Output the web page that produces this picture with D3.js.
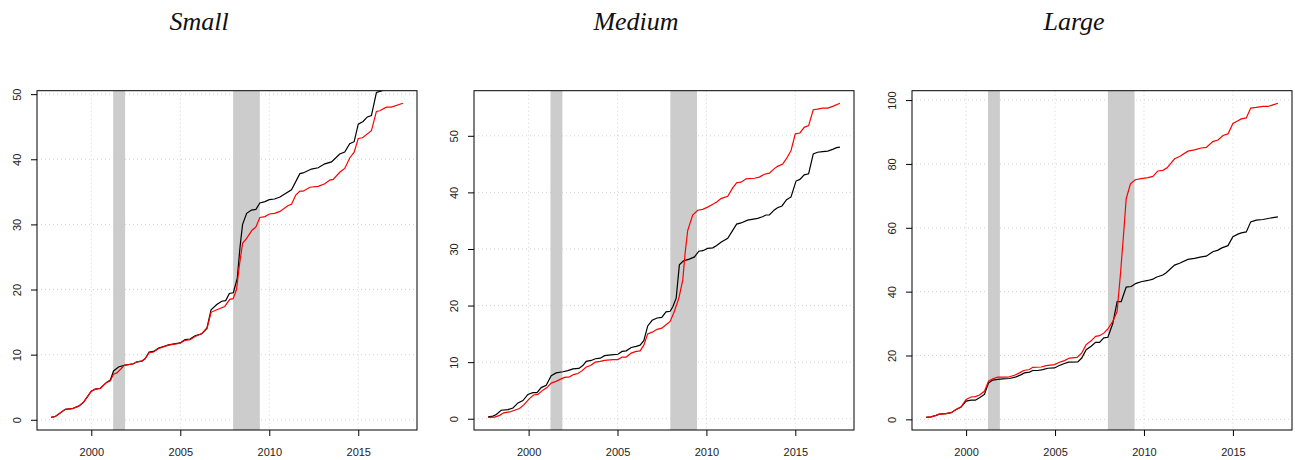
<!DOCTYPE html>
<html>
<head>
<meta charset="utf-8">
<script src="https://cdn.jsdelivr.net/npm/d3@7"></script>
<style>
    body { margin: 0; background: #fff; }
    svg { display: block; }
    .tick text { font-family: "Liberation Sans", Arial, sans-serif; font-size: 11px; fill: #222; }
    .title { font-family: "Liberation Serif", "Times New Roman", serif; font-style: italic; font-size: 26px; fill: #111; }
</style>
</head>
<body>
<svg width="1295" height="460"></svg>
<script>
'use strict';

var titles = ["Small", "Medium", "Large"];
var xTicks = [2000, 2005, 2010, 2015];
var yTicksSmall = [0, 10, 20, 30, 40, 50];
var yTicksMedium = [0, 10, 20, 30, 40, 50];
var yTicksLarge = [0, 20, 40, 60, 80, 100];
var recessions = [[2001.23, 2001.9], [2007.97, 2009.47]];

var smallBlack = [[1997.74,0.36],[1997.98,0.5],[1998.54,1.6],[1998.92,1.7],[1999.29,2.1],[1999.57,2.7],[2000.0,4.4],[2000.22,4.7],[2000.5,4.8],[2000.84,5.7],[2001.07,6.1],[2001.25,7.5],[2001.53,8.1],[2001.9,8.4],[2002.37,8.6],[2002.56,8.9],[2002.84,9.0],[2003.03,9.4],[2003.25,10.4],[2003.5,10.5],[2003.78,11.0],[2004.06,11.25],[2004.34,11.5],[2004.99,11.8],[2005.27,12.3],[2005.55,12.4],[2005.83,12.9],[2006.2,13.2],[2006.5,14.1],[2006.73,16.9],[2007.05,17.7],[2007.33,18.2],[2007.55,18.3],[2007.76,19.4],[2007.98,19.5],[2008.2,21.7],[2008.36,26.6],[2008.5,30.0],[2008.73,31.7],[2009.0,32.2],[2009.25,32.3],[2009.47,33.3],[2009.76,33.5],[2010.0,33.8],[2010.3,33.9],[2010.6,34.2],[2011.25,35.3],[2011.72,37.8],[2011.9,37.9],[2012.37,38.5],[2012.75,38.7],[2013.12,39.3],[2013.5,39.6],[2013.96,40.8],[2014.24,41.1],[2014.52,42.4],[2014.77,42.7],[2015.0,45.4],[2015.27,45.8],[2015.51,46.5],[2015.74,46.7],[2016.02,50.25],[2016.3,50.5],[2016.7,50.9],[2017.1,51.3],[2017.51,51.6]];
var smallRed = [[1997.74,0.36],[1997.98,0.5],[1998.54,1.6],[1998.92,1.7],[1999.29,2.1],[1999.57,2.7],[2000.0,4.4],[2000.22,4.7],[2000.5,4.8],[2000.84,5.7],[2001.07,6.0],[2001.25,7.0],[2001.44,7.2],[2001.66,7.8],[2001.85,8.35],[2002.37,8.6],[2002.56,8.9],[2002.84,9.0],[2003.03,9.4],[2003.25,10.3],[2003.5,10.4],[2003.78,10.95],[2004.06,11.2],[2004.34,11.45],[2004.99,11.75],[2005.27,12.2],[2005.55,12.3],[2005.83,12.8],[2006.2,13.2],[2006.5,14.0],[2006.73,16.5],[2007.05,16.9],[2007.5,17.4],[2007.78,18.5],[2007.97,18.6],[2008.16,20.0],[2008.31,23.5],[2008.5,27.1],[2008.73,27.85],[2009.03,29.1],[2009.25,29.6],[2009.47,31.06],[2009.76,31.2],[2010.0,31.6],[2010.3,31.7],[2010.6,32.0],[2011.06,32.9],[2011.25,33.1],[2011.49,34.5],[2011.72,35.1],[2011.9,35.1],[2012.28,35.7],[2012.75,35.85],[2013.12,36.25],[2013.4,36.8],[2013.59,36.9],[2013.96,38.0],[2014.24,38.6],[2014.52,40.2],[2014.77,41.1],[2015.0,43.2],[2015.24,43.3],[2015.74,44.4],[2016.02,47.35],[2016.21,47.45],[2016.58,48.0],[2016.86,48.0],[2017.51,48.6]];

var mediumBlack = [[1997.72,0.35],[1998.0,0.47],[1998.18,0.76],[1998.46,1.5],[1998.84,1.6],[1999.12,1.9],[1999.4,2.8],[1999.68,3.2],[1999.96,4.3],[2000.24,4.6],[2000.47,4.6],[2000.71,5.5],[2000.99,5.9],[2001.27,7.6],[2001.55,8.1],[2001.93,8.3],[2002.21,8.5],[2002.49,8.8],[2002.83,8.9],[2003.05,9.4],[2003.24,10.15],[2003.52,10.3],[2003.76,10.6],[2004.03,10.7],[2004.27,11.15],[2004.64,11.3],[2005.02,11.4],[2005.26,11.9],[2005.49,12.0],[2005.77,12.6],[2006.05,12.8],[2006.27,13.0],[2006.48,13.8],[2006.7,16.4],[2006.95,17.4],[2007.23,17.8],[2007.49,17.9],[2007.73,18.9],[2007.96,19.0],[2008.11,19.8],[2008.3,21.3],[2008.48,27.2],[2008.71,27.9],[2009.04,28.2],[2009.33,28.6],[2009.57,29.6],[2009.8,29.7],[2010.07,30.1],[2010.36,30.2],[2010.58,30.6],[2010.82,31.2],[2011.2,31.9],[2011.7,34.4],[2011.95,34.6],[2012.32,35.1],[2012.88,35.4],[2013.16,35.7],[2013.35,36.0],[2013.54,36.0],[2013.82,36.9],[2014.0,37.3],[2014.25,37.6],[2014.51,38.7],[2014.76,39.2],[2015.04,42.0],[2015.26,42.3],[2015.5,43.1],[2015.75,43.3],[2016.01,46.8],[2016.25,47.1],[2016.54,47.2],[2016.82,47.3],[2017.1,47.6],[2017.32,47.9],[2017.51,48.0]];
var mediumRed = [[1997.72,0.23],[1998.09,0.3],[1998.37,0.6],[1998.6,1.05],[1998.93,1.2],[1999.21,1.5],[1999.49,1.8],[1999.74,2.5],[2000.06,3.6],[2000.28,4.2],[2000.52,4.3],[2000.8,5.05],[2001.03,5.5],[2001.27,6.3],[2001.55,6.6],[2001.8,7.0],[2002.02,7.3],[2002.3,7.4],[2002.53,7.8],[2002.77,8.0],[2003.01,8.5],[2003.24,9.15],[2003.48,9.4],[2003.75,10.0],[2004.03,10.15],[2004.27,10.3],[2004.74,10.45],[2005.02,10.45],[2005.26,10.9],[2005.49,10.9],[2005.77,11.6],[2006.05,11.9],[2006.27,12.0],[2006.48,13.0],[2006.7,15.0],[2006.95,15.3],[2007.23,15.8],[2007.49,16.0],[2007.73,16.6],[2007.96,17.2],[2008.2,19.0],[2008.45,21.3],[2008.67,24.5],[2008.8,29.2],[2008.95,33.3],[2009.23,36.0],[2009.51,36.85],[2009.79,37.0],[2010.07,37.4],[2010.36,37.9],[2010.58,38.3],[2010.82,38.9],[2011.2,39.3],[2011.48,40.8],[2011.7,41.7],[2011.95,41.8],[2012.23,42.4],[2012.7,42.5],[2012.98,42.7],[2013.26,43.2],[2013.54,43.4],[2013.82,44.2],[2014.0,44.6],[2014.29,45.0],[2014.51,46.0],[2014.76,47.4],[2015.0,50.35],[2015.26,50.5],[2015.5,51.5],[2015.75,51.8],[2016.01,54.6],[2016.25,54.7],[2016.54,54.9],[2016.82,54.9],[2017.1,55.2],[2017.51,55.75]];

var largeBlack = [[1997.75,0.6],[1998.03,0.8],[1998.31,1.25],[1998.5,1.65],[1998.87,1.8],[1999.16,2.1],[1999.44,3.1],[1999.72,3.85],[2000.0,5.7],[2000.28,6.0],[2000.52,6.0],[2000.75,6.75],[2001.03,7.8],[2001.26,11.4],[2001.5,12.3],[2001.78,12.5],[2002.06,12.7],[2002.44,12.8],[2002.81,13.3],[2003.1,14.0],[2003.28,14.55],[2003.56,14.8],[2003.75,15.3],[2004.03,15.3],[2004.31,15.6],[2004.59,16.0],[2004.97,16.1],[2005.21,16.8],[2005.49,17.4],[2005.76,17.9],[2006.28,18.0],[2006.5,19.2],[2006.75,21.8],[2007.03,22.9],[2007.28,24.1],[2007.5,24.1],[2007.74,25.5],[2007.97,25.7],[2008.25,30.1],[2008.49,36.9],[2008.72,36.9],[2009.0,41.4],[2009.28,41.6],[2009.56,42.6],[2009.84,43.1],[2010.22,43.5],[2010.5,43.9],[2010.69,44.5],[2011.06,45.2],[2011.25,45.9],[2011.72,48.3],[2012.0,48.9],[2012.47,50.1],[2012.84,50.4],[2013.22,50.9],[2013.5,51.1],[2013.87,52.5],[2014.16,53.0],[2014.38,53.7],[2014.72,54.4],[2015.0,57.2],[2015.28,58.0],[2015.47,58.4],[2015.75,58.7],[2016.0,61.85],[2016.31,62.4],[2016.69,62.6],[2016.97,62.9],[2017.25,63.2],[2017.53,63.4]];
var largeRed = [[1997.75,0.6],[1998.03,0.8],[1998.31,1.25],[1998.5,1.65],[1998.87,1.8],[1999.16,2.1],[1999.44,3.1],[1999.72,3.95],[2000.0,6.2],[2000.28,7.0],[2000.52,7.1],[2000.75,7.6],[2001.03,8.8],[2001.26,11.95],[2001.5,12.7],[2001.78,13.2],[2002.34,13.2],[2002.72,13.8],[2003.0,14.55],[2003.24,15.3],[2003.56,15.6],[2003.75,16.3],[2004.22,16.4],[2004.5,16.8],[2004.97,17.15],[2005.25,17.9],[2005.53,18.4],[2005.81,19.2],[2006.24,19.4],[2006.5,20.8],[2006.75,23.4],[2007.03,24.6],[2007.28,26.0],[2007.5,26.2],[2007.74,27.0],[2007.97,28.3],[2008.25,30.7],[2008.49,33.8],[2008.68,45.7],[2008.87,59.25],[2009.0,69.1],[2009.24,73.8],[2009.51,75.05],[2009.84,75.4],[2010.22,75.7],[2010.5,76.1],[2010.78,77.8],[2011.06,78.0],[2011.3,78.8],[2011.72,81.6],[2012.0,82.3],[2012.47,84.0],[2012.84,84.4],[2013.22,85.0],[2013.5,85.2],[2013.87,87.0],[2014.16,87.5],[2014.44,88.9],[2014.72,89.4],[2015.0,92.7],[2015.28,93.55],[2015.47,94.1],[2015.75,94.4],[2016.0,97.5],[2016.31,97.7],[2016.69,98.0],[2016.97,98.0],[2017.25,98.5],[2017.53,99.0]];

var panels = [
    {black: smallBlack, red: smallRed, yTicks: yTicksSmall, left: 37},
    {black: mediumBlack, red: mediumRed, yTicks: yTicksMedium, left: 474},
    {black: largeBlack, red: largeRed, yTicks: yTicksLarge, left: 912}
];

var plotWidth = 380,
    plotTop = 90.7,
    plotBottom = 430,
    plotHeight = plotBottom - plotTop;

var svg = d3.select("svg");

// R style ranges: data range plus 4% on each side
function padded(ext) {
    var d = (ext[1] - ext[0]) * 0.04;
    return [ext[0] - d, ext[1] + d];
}

panels.forEach(function(p, i) {
    var all = p.black.concat(p.red);

    var x = d3.scaleLinear()
        .domain(padded(d3.extent(all, function(d) { return d[0]; })))
        .range([0, plotWidth]);

    var y = d3.scaleLinear()
        .domain(padded(d3.extent(p.red, function(d) { return d[1]; })))
        .range([plotHeight, 0]);

    var g = svg.append("g")
        .attr("transform", "translate(" + p.left + "," + plotTop + ")");

    g.append("clipPath")
        .attr("id", "clip" + i)
        .append("rect")
        .attr("width", plotWidth)
        .attr("height", plotHeight);

    var plot = g.append("g").attr("clip-path", "url(#clip" + i + ")");

    plot.selectAll(".vgrid")
        .data(xTicks)
        .enter().append("line")
        .attr("x1", function(d) { return x(d); })
        .attr("x2", function(d) { return x(d); })
        .attr("y1", 0)
        .attr("y2", plotHeight)
        .attr("stroke", "#d3d3d3")
        .attr("stroke-dasharray", "1,3");

    plot.selectAll(".hgrid")
        .data(p.yTicks)
        .enter().append("line")
        .attr("x1", 0)
        .attr("x2", plotWidth)
        .attr("y1", function(d) { return y(d); })
        .attr("y2", function(d) { return y(d); })
        .attr("stroke", "#d3d3d3")
        .attr("stroke-dasharray", "1,3");

    plot.selectAll(".rec")
        .data(recessions)
        .enter().append("rect")
        .attr("x", function(d) { return x(d[0]); })
        .attr("width", function(d) { return x(d[1]) - x(d[0]); })
        .attr("y", 0)
        .attr("height", plotHeight)
        .attr("fill", "#cccccc");

    var line = d3.line()
        .x(function(d) { return x(d[0]); })
        .y(function(d) { return y(d[1]); });

    plot.append("path")
        .datum(p.black)
        .attr("d", line)
        .attr("fill", "none")
        .attr("stroke", "#000")
        .attr("stroke-width", 1.2);

    plot.append("path")
        .datum(p.red)
        .attr("d", line)
        .attr("fill", "none")
        .attr("stroke", "#ff0000")
        .attr("stroke-width", 1.2);

    g.append("rect")
        .attr("width", plotWidth)
        .attr("height", plotHeight)
        .attr("fill", "none")
        .attr("stroke", "#000")
        .attr("stroke-width", 1);

    var xAxis = g.append("g")
        .attr("transform", "translate(0," + plotHeight + ")")
        .call(d3.axisBottom(x).tickValues(xTicks).tickFormat(d3.format("d")).tickSize(6).tickPadding(12));
    xAxis.select(".domain").remove();

    var yAxis = g.append("g")
        .call(d3.axisLeft(y).tickValues(p.yTicks).tickSize(6));
    yAxis.select(".domain").remove();
    yAxis.selectAll(".tick text")
        .attr("x", null)
        .attr("dy", null)
        .attr("transform", "translate(-16,0) rotate(-90)")
        .style("text-anchor", "middle");

    svg.append("text")
        .attr("class", "title")
        .attr("x", p.left + 162)
        .attr("y", 30)
        .attr("text-anchor", "middle")
        .text(titles[i]);
});
</script>
</body>
</html>
